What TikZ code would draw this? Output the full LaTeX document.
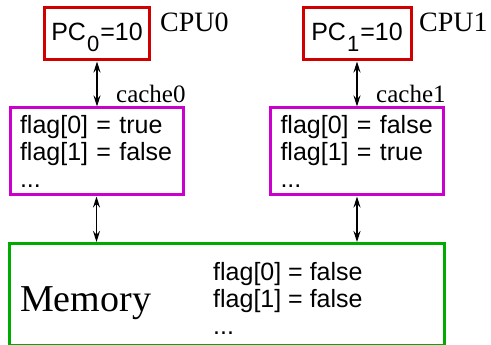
\documentclass[tikz,border=0pt]{standalone}
\usepackage{fontspec}
\setmainfont{Liberation Serif}
\setsansfont{Liberation Sans}
\usepackage{xcolor}
\definecolor{cpuboxdraw}{rgb}{0.82,0.00,0.00}
\definecolor{cacheboxdraw}{rgb}{0.80,0.00,0.80}
\definecolor{memboxdraw}{rgb}{0.00,0.67,0.00}
\usetikzlibrary{positioning,arrows.meta}

\begin{document}
\begin{tikzpicture}[
  x=1pt, y=-1pt,
  >={Stealth[length=11pt,width=7pt]},
  every node/.style={inner sep=0pt},
  cpubox/.style  ={rectangle, draw=cpuboxdraw,   line width=3pt, minimum width=105pt, minimum height=52pt, text height=22pt, text depth=8pt, font=\sffamily\fontsize{25}{27}\selectfont},
  cachebox/.style={rectangle, draw=cacheboxdraw, line width=3pt, minimum width=173pt, minimum height=87pt, text width=153pt, align=left, font=\sffamily\fontsize{25}{27}\selectfont},
  membox/.style  ={rectangle, draw=memboxdraw,   line width=3pt, minimum width=435pt, minimum height=102pt},
  memtext/.style ={align=left, font=\sffamily\fontsize{25}{27}\selectfont},
  memname/.style ={font=\fontsize{38}{38}\selectfont},
  cpulabel/.style  ={font=\fontsize{28}{28}\selectfont},
  cachelabel/.style={font=\fontsize{25}{25}\selectfont},
  link/.style={<->, line width=1.2pt}
]
\useasboundingbox (0,0) rectangle (491,345);

\node[cpubox] (pc0) at (97,34) {PC\kern1pt\raisebox{-11pt}{\fontsize{22}{22}\selectfont 0}\kern1pt=10};
\node[cpubox, minimum width=108pt] (pc1) at (357,34) {PC\kern1pt\raisebox{-11pt}{\fontsize{22}{22}\selectfont 1}\kern1pt=10};

\node[cpulabel, anchor=base west] (cpu0) at (160,32) {CPU0};
\node[cpulabel, anchor=base west] (cpu1) at (419,32) {CPU1};

\node[cachebox] (cache0) at (96.5,151.5) {flag[0] = true\\flag[1] = false\\...};
\node[cachebox] (cache1) at (357,151.5)  {flag[0] = false\\flag[1] = true\\...};

\node[cachelabel, anchor=base west] (cname0) at (116,103) {cache0};
\node[cachelabel, anchor=base west] (cname1) at (376,103) {cache1};

\node[membox] (mem) at (226.5,294.5) {};
\node[memname, anchor=base west] (memlabel) at (20,312) {Memory};
\node[memtext, anchor=north west] (memflags) at (213,262) {flag[0] = false\\flag[1] = false\\...};

\draw[link] (pc0.south) -- (pc0.south |- cache0.north);
\draw[link] (pc1.south) -- (pc1.south |- cache1.north);

\draw[link] (cache0.south) -- (cache0.south |- mem.north);
\draw[link] (cache1.south) -- (cache1.south |- mem.north);

\end{tikzpicture}
\end{document}
